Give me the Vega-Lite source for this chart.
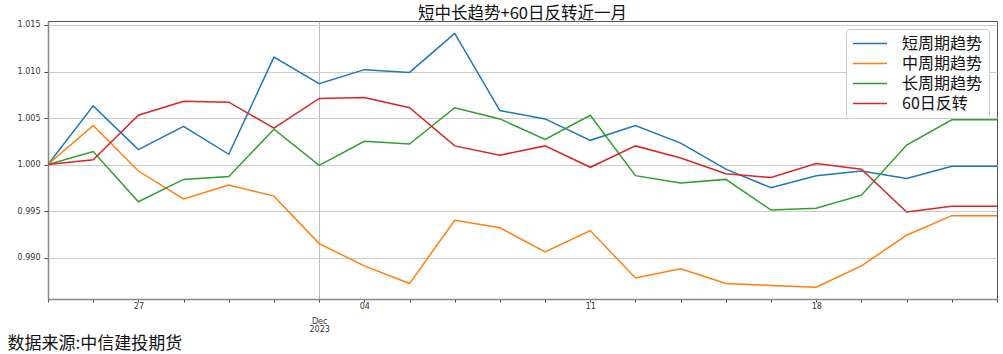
{
  "$schema": "https://vega.github.io/schema/vega-lite/v6.json",
  "autosize": "none",
  "width": 949,
  "height": 278,
  "padding": {"left": 48, "top": 21, "right": 6, "bottom": 55},
  "background": "white",
  "title": {
    "text": "短中长趋势+60日反转近一月",
    "font": "Noto Sans CJK SC",
    "fontSize": 16.5,
    "fontWeight": "normal",
    "color": "#111",
    "anchor": "middle",
    "offset": -2
  },
  "config": {
    "view": {"stroke": "#555", "strokeWidth": 1},
    "font": "DejaVu Sans"
  },
  "data": {
    "values": [
      {"date": "2023-11-23", "短周期趋势": 1.0000, "中周期趋势": 1.0000, "长周期趋势": 1.0000, "60日反转": 1.0000},
      {"date": "2023-11-24", "短周期趋势": 1.0063, "中周期趋势": 1.0042, "长周期趋势": 1.0014, "60日反转": 1.0005},
      {"date": "2023-11-27", "短周期趋势": 1.0016, "中周期趋势": 0.9993, "长周期趋势": 0.9960, "60日反转": 1.0053},
      {"date": "2023-11-28", "短周期趋势": 1.0041, "中周期趋势": 0.9963, "长周期趋势": 0.9984, "60日反转": 1.0068},
      {"date": "2023-11-29", "短周期趋势": 1.0011, "中周期趋势": 0.9978, "长周期趋势": 0.9987, "60日反转": 1.0067},
      {"date": "2023-11-30", "短周期趋势": 1.01155, "中周期趋势": 0.9966, "长周期趋势": 1.0038, "60日反转": 1.0039},
      {"date": "2023-12-01", "短周期趋势": 1.0087, "中周期趋势": 0.9915, "长周期趋势": 0.9999, "60日反转": 1.0071},
      {"date": "2023-12-04", "短周期趋势": 1.0102, "中周期趋势": 0.9891, "长周期趋势": 1.0025, "60日反转": 1.0072},
      {"date": "2023-12-05", "短周期趋势": 1.0099, "中周期趋势": 0.9872, "长周期趋势": 1.0022, "60日反转": 1.0061},
      {"date": "2023-12-06", "短周期趋势": 1.0141, "中周期趋势": 0.9940, "长周期趋势": 1.0061, "60日反转": 1.0020},
      {"date": "2023-12-07", "短周期趋势": 1.0058, "中周期趋势": 0.9932, "长周期趋势": 1.0049, "60日反转": 1.0010},
      {"date": "2023-12-08", "短周期趋势": 1.0049, "中周期趋势": 0.9906, "长周期趋势": 1.0027, "60日反转": 1.0020},
      {"date": "2023-12-11", "短周期趋势": 1.0026, "中周期趋势": 0.9929, "长周期趋势": 1.0053, "60日反转": 0.9997},
      {"date": "2023-12-12", "短周期趋势": 1.0042, "中周期趋势": 0.9878, "长周期趋势": 0.9988, "60日反转": 1.0020},
      {"date": "2023-12-13", "短周期趋势": 1.0023, "中周期趋势": 0.9888, "长周期趋势": 0.9980, "60日反转": 1.0007},
      {"date": "2023-12-14", "短周期趋势": 0.9995, "中周期趋势": 0.9872, "长周期趋势": 0.9984, "60日反转": 0.9990},
      {"date": "2023-12-15", "短周期趋势": 0.9975, "中周期趋势": 0.9870, "长周期趋势": 0.9951, "60日反转": 0.9986},
      {"date": "2023-12-18", "短周期趋势": 0.9988, "中周期趋势": 0.9868, "长周期趋势": 0.9953, "60日反转": 1.0001},
      {"date": "2023-12-19", "短周期趋势": 0.9993, "中周期趋势": 0.9891, "长周期趋势": 0.9967, "60日反转": 0.9995},
      {"date": "2023-12-20", "短周期趋势": 0.9985, "中周期趋势": 0.9924, "长周期趋势": 1.0021, "60日反转": 0.9949},
      {"date": "2023-12-21", "短周期趋势": 0.9998, "中周期趋势": 0.9945, "长周期趋势": 1.0048, "60日反转": 0.9955},
      {"date": "2023-12-22", "短周期趋势": 0.9998, "中周期趋势": 0.9945, "长周期趋势": 1.0048, "60日反转": 0.9955}
    ]
  },
  "transform": [
    {"fold": ["短周期趋势", "中周期趋势", "长周期趋势", "60日反转"], "as": ["series", "value"]}
  ],
  "mark": {"type": "line", "strokeWidth": 1.5, "clip": true},
  "encoding": {
    "x": {
      "field": "date",
      "type": "ordinal",
      "scale": {"type": "point", "padding": 0},
      "axis": {
        "title": "数据来源:中信建投期货",
        "titleFont": "Noto Sans CJK SC",
        "titleFontSize": 17,
        "titleFontWeight": "normal",
        "titleColor": "#111",
        "titleAnchor": "start",
        "titleAlign": "left",
        "titleBaseline": "middle",
        "titleX": -41,
        "titleY": 44,
        "labelAngle": 0,
        "labelFontSize": 8,
        "labelColor": "#333",
        "labelPadding": {"condition": {"test": "datum.value == '2023-12-01'", "value": 15}, "value": 0},
        "labelLineHeight": 8,
        "labelBaseline": "top",
        "labelExpr": "datum.value == '2023-11-27' ? '27' : datum.value == '2023-12-01' ? ['Dec', '2023'] : datum.value == '2023-12-04' ? '04' : datum.value == '2023-12-11' ? '11' : datum.value == '2023-12-18' ? '18' : ''",
        "tickSize": 3,
        "tickColor": "#444",
        "domainColor": "#888",
        "domainWidth": 1.5,
        "grid": true,
        "gridColor": "#bbb",
        "gridWidth": 1,
        "gridOpacity": {"condition": {"test": "datum.value == '2023-12-01'", "value": 1}, "value": 0}
      }
    },
    "y": {
      "field": "value",
      "type": "quantitative",
      "scale": {"domain": [0.98554, 1.01543], "nice": false, "zero": false},
      "axis": {
        "title": null,
        "values": [0.990, 0.995, 1.000, 1.005, 1.010, 1.015],
        "format": ".3f",
        "labelFontSize": 8,
        "labelColor": "#333",
        "labelPadding": 4,
        "tickSize": 4,
        "tickColor": "#444",
        "domainColor": "#888",
        "domainWidth": 1.5,
        "grid": true,
        "gridColor": "#ccc",
        "gridWidth": 1
      }
    },
    "color": {
      "field": "series",
      "type": "nominal",
      "scale": {
        "domain": ["短周期趋势", "中周期趋势", "长周期趋势", "60日反转"],
        "range": ["#1f77b4", "#ff7f0e", "#2ca02c", "#d62728"]
      },
      "legend": {
        "title": null,
        "orient": "top-right",
        "offset": 8,
        "fillColor": "white",
        "strokeColor": "#ccc",
        "cornerRadius": 3,
        "padding": 6,
        "symbolType": "M-2.27,0L2.27,0",
        "symbolSize": 225,
        "symbolOffset": 9.5,
        "symbolStrokeWidth": 1.5,
        "labelFont": "Noto Sans CJK SC",
        "labelFontSize": 16,
        "labelColor": "#111",
        "labelOffset": 23.5,
        "rowPadding": 3
      }
    }
  }
}
